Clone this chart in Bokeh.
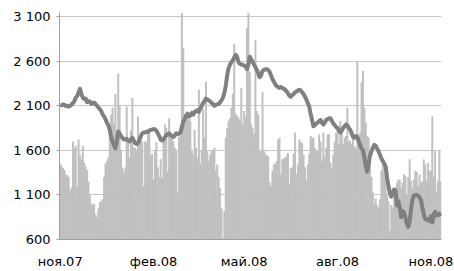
import pandas as pd
from bokeh.plotting import figure
from bokeh.models import Range1d, FixedTicker, ColumnDataSource
from bokeh.embed import file_html
from bokeh.resources import INLINE

# daily trading volume (grey bars)
volume = [
    1450, 1430, 1400, 1380, 1330, 1320, 1300, 1150, 1180, 1700, 1620, 1650, 1200, 1720, 1550, 1500,
    1650, 1460, 1420, 1380, 1250, 1100, 1000, 980, 1000, 880, 850, 950, 1020, 1030, 1050, 1300,
    1450, 1480, 1520, 1750, 2000, 2080, 1900, 2230, 1800, 2460, 2100, 1600, 1400, 1350,
    1410, 2090, 1700, 1520, 1820, 2190, 1630, 1630, 1600, 1980, 1700, 1740, 1700, 1200, 1700, 1690,
    1780, 1800, 1550, 1560, 1270, 1600, 1690, 1410, 1300, 1500, 1290, 1700, 1890, 1850, 1360, 1960,
    1740, 1750, 1700, 1630, 1600, 1130, 1750, 1850, 3140, 2750, 2000, 1960, 1970,
    1960, 1930, 1590, 1550, 1830, 1630, 1520, 2280, 1450, 1600, 2070, 1740, 2370, 1590, 1480, 1550,
    1590, 1600, 1630, 1370, 1440, 1300, 1180, 960, 610, 920, 1740, 1850, 1930, 1960, 2080, 2230,
    2790, 2010, 1990, 1970, 1930, 2300, 1890, 2040, 1970, 2970, 3140, 2480, 1900,
    1850, 1780, 2840, 2040, 2000, 1600, 1590, 2250, 1590, 1560, 1540, 1530, 1240, 1200, 1370, 1440,
    1450, 1480, 1720, 1740, 1330, 1500, 1510, 1520, 1540, 1570, 1220, 1400, 1410, 1560, 1800, 1330,
    1440, 1720, 1690, 1680, 1550, 1410, 1260, 1440, 1560, 1760, 1740, 1740, 1630, 1600,
    1590, 1780, 1700, 1480, 1800, 1520, 1630, 1780, 1780, 1460, 1400, 1550, 1700, 1800, 1820, 1670,
    1930, 1820, 1670, 1740, 1760, 2080, 1700, 1710, 1670, 1740, 1640, 1630, 2600, 1700, 1800, 2360,
    2490, 2080, 1910, 1760, 1740, 1470, 1300, 1130, 1000, 1060, 990, 960,
    1050, 1370, 1440, 1410, 1420, 1110, 1030, 700, 990, 960, 1130, 1050, 1240, 1270, 1270, 1180,
    1240, 1330, 1310, 1100, 1300, 1500, 1260, 1180, 1270, 1370, 1360, 1200, 1330, 1240, 1250, 1500,
    1440, 1260, 1460, 1370, 1370, 1980, 1310, 1590, 1140, 1260, 1600, 1250,
]

# index level (dark grey line)
index_level = [
    2110, 2105, 2115, 2110, 2095, 2100, 2090, 2100, 2110, 2130, 2150, 2190, 2210, 2250, 2290, 2230,
    2190, 2175, 2180, 2140, 2150, 2145, 2120, 2130, 2135, 2120, 2100, 2080, 2060, 2040, 2000, 1980,
    1950, 1910, 1880, 1830, 1750, 1700, 1660, 1620, 1700, 1810, 1790, 1760, 1740, 1720,
    1720, 1730, 1710, 1700, 1720, 1740, 1710, 1680, 1670, 1680, 1720, 1760, 1790, 1800, 1800, 1810,
    1805, 1820, 1830, 1830, 1840, 1835, 1820, 1790, 1760, 1720, 1710, 1720, 1750, 1770, 1780, 1790,
    1770, 1760, 1750, 1770, 1790, 1780, 1790, 1800, 1860, 1920, 1950, 1990, 2010,
    1980, 1990, 2020, 2000, 2030, 2040, 2050, 2030, 2070, 2100, 2130, 2150, 2180, 2170, 2160, 2150,
    2130, 2120, 2100, 2110, 2115, 2120, 2140, 2160, 2190, 2240, 2320, 2440, 2520, 2560, 2590, 2610,
    2640, 2670, 2650, 2590, 2570, 2560, 2560, 2550, 2540, 2510, 2560, 2650, 2620,
    2590, 2560, 2530, 2500, 2460, 2420, 2440, 2490, 2500, 2510, 2510, 2500, 2480, 2440, 2400, 2370,
    2340, 2320, 2310, 2300, 2310, 2300, 2290, 2280, 2260, 2240, 2210, 2200, 2220, 2230, 2250, 2260,
    2270, 2280, 2270, 2250, 2230, 2200, 2170, 2130, 2090, 2010, 1940, 1870, 1880, 1900,
    1910, 1930, 1940, 1910, 1890, 1910, 1940, 1950, 1960, 1960, 1930, 1900, 1880, 1860, 1850, 1820,
    1800, 1820, 1850, 1870, 1890, 1880, 1850, 1830, 1790, 1750, 1740, 1760, 1750, 1700, 1660, 1620,
    1600, 1520, 1420, 1360, 1450, 1540, 1590, 1630, 1660, 1650, 1620, 1590,
    1550, 1510, 1480, 1450, 1420, 1300, 1200, 1120, 1080, 1120, 1160, 1150, 980, 1030, 960, 850,
    920, 900, 850, 780, 740, 800, 950, 1050, 1090, 1100, 1100, 1090, 1070, 1040, 960, 880,
    830, 820, 830, 810, 860, 790, 880, 910, 870, 880, 890, 860,
]

tick_months = ["2007-11", "2008-02", "2008-05", "2008-08", "2008-11"]
tick_labels = ["ноя.07", "фев.08", "май.08", "авг.08", "ноя.08"]
y_ticks = [600, 1100, 1600, 2100, 2600, 3100]

dates = pd.bdate_range("2007-11-01", periods=len(volume))
xs = list(range(len(volume)))
src = ColumnDataSource(dict(x=xs, vol=volume, lvl=index_level))

x_ticks = [int((dates >= pd.Timestamp(m + "-01")).argmax()) for m in tick_months]

p = figure(width=454, height=271, output_backend="svg", toolbar_location=None,
           x_range=Range1d(-0.5, len(volume) - 0.5), y_range=Range1d(600, 3145),
           min_border_left=59, min_border_right=13, min_border_top=12, min_border_bottom=31)
p.outline_line_color = None
p.background_fill_color = "white"
p.border_fill_color = "white"

p.vbar(x="x", top="vol", bottom=600, width=1.4, fill_color="#c0c0c0",
       line_color=None, source=src)
p.line(x="x", y="lvl", line_color="#808080", line_width=4, line_join="round", source=src)

p.xgrid.visible = False
p.ygrid.grid_line_color = "#c8c8c8"
p.ygrid.grid_line_width = 1

p.yaxis.ticker = FixedTicker(ticks=y_ticks)
p.yaxis.major_label_overrides = {v: f"{v:,}".replace(",", " ") for v in y_ticks}
p.xaxis.ticker = FixedTicker(ticks=x_ticks)
p.xaxis.major_label_overrides = {t: l for t, l in zip(x_ticks, tick_labels)}

for ax in (p.xaxis[0], p.yaxis[0]):
    ax.axis_line_color = "#a0a0a0"
    ax.major_tick_line_color = "#a0a0a0"
    ax.minor_tick_line_color = None
    ax.major_label_text_font = "DejaVu Sans"
    ax.major_label_text_font_size = "13px"
    ax.major_label_text_color = "black"

p.yaxis.major_tick_out = 3
p.yaxis.major_tick_in = 0
p.yaxis.major_label_standoff = 6
p.xaxis.major_tick_out = 0
p.xaxis.major_tick_in = 0
p.xaxis.major_label_standoff = 14

open("out.html", "w").write(file_html(p, INLINE))
